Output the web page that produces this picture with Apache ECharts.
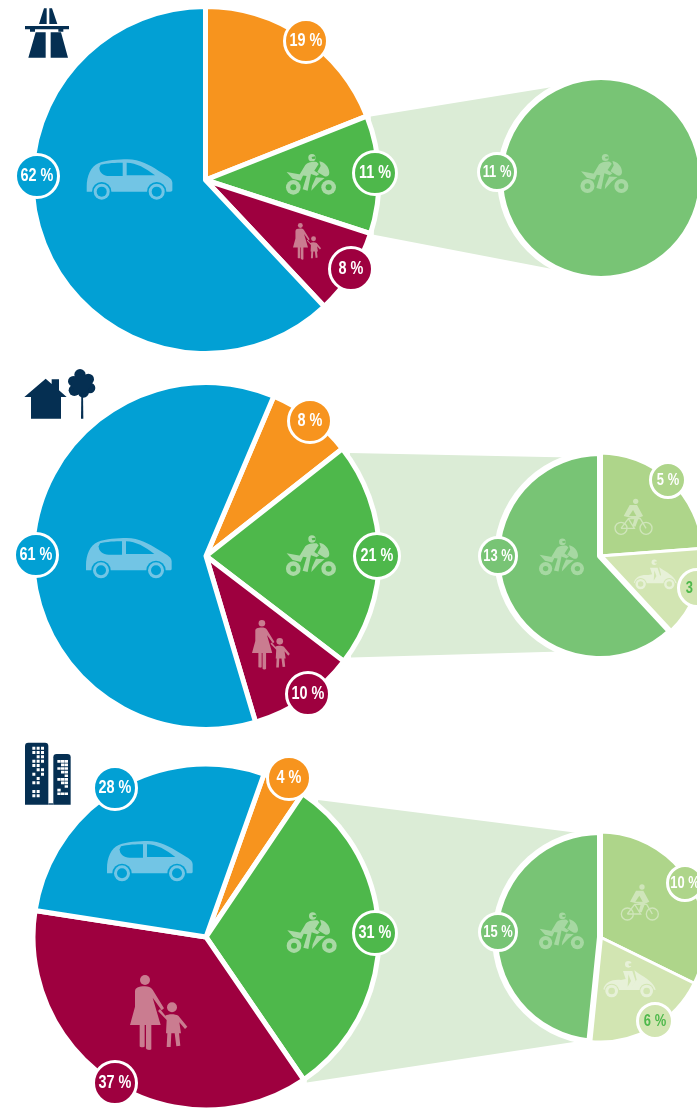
<!DOCTYPE html>
<html>
<head>
<meta charset="utf-8">
<title>Modal split</title>
<script src="https://cdn.jsdelivr.net/npm/echarts@6/dist/echarts.min.js"></script>
<style>
  html, body { margin: 0; padding: 0; background: #fff; }
  #chart { width: 697px; height: 1109px; }
</style>
</head>
<body>
<div id="chart"></div>
<script>
// categories, clockwise in every pie
var mainCategories = ['Other', 'Two-wheelers', 'Pedestrians', 'Cars'];
var detailCategories = ['Bicycles', 'Mopeds', 'Motorcycles'];

// shares in percent
var motorwayShares = [19, 11, 8, 62];
var ruralShares = [8, 21, 10, 61];
var urbanShares = [4, 31, 37, 28];
var motorwayDetail = [0, 0, 11];
var ruralDetail = [5, 3, 13];
var urbanDetail = [10, 6, 15];

var mainColors = ['#f7941e', '#4eb84b', '#9e003f', '#02a0d4'];
var detailColors = ['#aed58a', '#d2e5b2', '#78c475'];
var detailText = ['#fff', '#4eb84b', '#fff'];
var navy = '#052f52';
var bandColor = '#dbecd6';

// layout of the three rows, bubbles are [x, y, r] in data order
var panels = [
  {
    main: motorwayShares, detail: motorwayDetail,
    center: [205.5, 180], radius: 173.5, start: 90,
    dCenter: [601, 178], dRadius: 101, dStart: 90,
    bandFrom: [69, 108], bandTo: [332, 207.5],
    bubbles: [[306, 41, 23], [375, 173, 23], [351, 269, 23], [37, 176, 23]],
    dBubbles: [null, null, [497, 172, 20]]
  },
  {
    main: ruralShares, detail: ruralDetail,
    center: [206, 556], radius: 173.5, start: 67,
    dCenter: [600, 556], dRadius: 103, dStart: 90,
    bandFrom: [54.4, 125], bandTo: [343, 202],
    bubbles: [[310, 421, 23], [377, 556, 24], [308, 694, 23], [36, 555, 23]],
    dBubbles: [[668, 480, 19], [697, 588, 20], [498, 556, 20]]
  },
  {
    main: urbanShares, detail: urbanDetail,
    center: [206, 937], radius: 173, start: 70.4,
    dCenter: [600, 937], dRadius: 105, dStart: 90,
    bandFrom: [39.3, 145.3], bandTo: [354.6, 185.5],
    bubbles: [[289, 778, 23], [375, 933, 23], [115, 1083, 23], [115, 788, 23]],
    dBubbles: [[685, 883, 19], [655, 1021, 19], [498, 932, 20]]
  }
];

function circ(cx, cy, r) {
  return 'M' + (cx - r) + ',' + cy + ' a' + r + ',' + r + ' 0 1,0 ' + (2 * r) + ',0 a' + r + ',' + r + ' 0 1,0 ' + (-2 * r) + ',0 Z';
}

// icons are drawn in 3x units: f = foreground fill, h = background fill, s = outline
var carIcon = [
  ['f', 'M0,82 C0,50 12,22 35,12 C60,2 95,0 122,0 C160,0 190,18 215,34 C235,47 257,55 257,70 L257,92 C257,96 255,97 250,97 L0,97 Z'],
  ['h', 'M42,16 C60,11 90,10 108,10 L108,50 L68,50 C50,50 38,40 38,25 Z'],
  ['h', 'M120,10 C150,11 175,25 205,48 L120,48 Z'],
  ['h', circ(45, 97, 29)], ['h', circ(210, 97, 29)],
  ['f', circ(45, 97, 24)], ['f', circ(210, 97, 24)],
  ['h', circ(45, 97, 15)], ['h', circ(210, 97, 15)]
];
var motoIcon = [
  ['f', circ(42, 122, 22)], ['f', circ(148, 122, 22)],
  ['h', circ(42, 122, 9)], ['h', circ(148, 122, 9)],
  ['f', 'M22,76 L72,85 L64,102 L40,96 Z'],
  ['f', 'M60,85 L78,55 C85,47 100,44 112,46 L118,52 L105,72 L120,82 L112,88 L95,82 L85,132 L70,128 L82,88 Z'],
  ['f', 'M120,44 C136,46 150,62 150,78 C150,88 142,92 134,88 L114,76 L124,58 Z'],
  ['f', 'M98,118 L110,92 L136,94 L118,108 L96,132 Z'],
  ['f', circ(98, 33, 11)], ['h', 'M97,31 L108,29 L108,36 L99,37 Z']
];
var pedIcon = [
  ['f', circ(45, 15, 15)],
  ['f', 'M15,50 C15,38 25,34 45,34 C55,34 62,36 68,44 L102,100 L95,106 L68,68 L92,150 L64,150 L64,222 C64,226 49,226 48,220 L48,150 L44,150 L44,214 C44,218 30,218 29,214 L29,150 L0,150 L15,95 Z'],
  ['f', circ(126, 97, 15)],
  ['f', 'M106,122 C115,116 135,116 145,122 L172,155 L165,162 L148,142 L153,175 L147,175 L151,212 L139,214 L134,175 L124,175 L122,216 L110,216 L112,175 L108,175 L110,135 L84,108 L90,102 Z']
];
var bikeIcon = [
  ['s', circ(52, 117, 18)], ['s', circ(127, 117, 18)],
  ['s', 'M52,117 L74,88 L110,88 L127,117 M74,88 L92,117 L52,117'],
  ['f', circ(96, 36, 8)],
  ['f', 'M78,47 L100,47 L118,80 L105,86 L95,112 L86,110 L92,88 L60,80 Z'],
  ['h', 'M88,62 L98,80 L76,80 Z']
];
var scooterIcon = [
  ['f', circ(100, 28, 10)], ['h', 'M100,26 L112,24 L112,33 L102,33 Z'],
  ['f', 'M25,103 C30,80 55,72 78,75 L92,72 L84,48 L112,48 L122,78 L110,95 L125,74 L118,46 L130,55 C155,70 178,85 182,105 L170,103 C165,88 145,85 135,105 L72,105 C65,88 40,88 30,105 Z'],
  ['h', 'M100,58 L108,78 L98,95 Z'],
  ['h', circ(50, 108, 22)], ['h', circ(155, 108, 22)],
  ['f', circ(50, 108, 19)], ['f', circ(155, 108, 19)],
  ['h', circ(50, 108, 10)], ['h', circ(155, 108, 10)]
];
var motorwaySign = [
  ['f', 'M117,72 L132,25 L140,25 L140,72 Z M148,72 L148,25 L156,25 L172,72 Z'],
  ['f', 'M75,78 L207,78 L207,88 L190,88 L190,95 L175,95 L175,88 L105,88 L105,95 L90,95 L90,88 L75,88 Z'],
  ['f', 'M85,173 L107,97 L137,97 L137,173 Z M152,173 L152,97 L183,97 L204,173 Z']
];
var houseTree = [
  ['f', 'M28,105 L92,50 L110,66 L110,52 L132,52 L132,85 L155,105 L138,105 L138,170 L48,170 L48,105 Z'],
  ['f', circ(195, 38, 17)], ['f', circ(220, 52, 17)], ['f', circ(225, 78, 16)],
  ['f', circ(205, 90, 17)], ['f', circ(178, 85, 17)], ['f', circ(175, 58, 16)], ['f', circ(198, 65, 29)],
  ['f', 'M199,95 L204,95 L205,170 L198,170 Z']
];

function buildingIcon() {
  var parts = [
    ['f', 'M21,24 Q21,14 31,14 L81,14 Q91,14 91,24 L91,200 L21,200 Z'],
    ['f', 'M106,58 Q106,48 116,48 L148,48 Q158,48 158,58 L158,200 L106,200 Z'],
    ['f', 'M91,196 L106,196 L106,200 L91,200 Z']
  ];
  // window pattern, one string per floor
  var tall = ['111', '111', '011', '111', '110', '011', '101', '010', '110', '000', '110', '110'];
  var short = ['111', '011', '111', '011', '001', '111', '011', '001', '100', '111'];
  var d = '';
  tall.forEach(function (row, r) {
    for (var c = 0; c < 3; c++) if (row[c] === '1') {
      var x = 43 + c * 13, y = 26 + r * 13;
      d += 'M' + x + ',' + y + ' h9 v9 h-9 Z ';
    }
  });
  short.forEach(function (row, r) {
    for (var c = 0; c < 3; c++) if (row[c] === '1') {
      var x = 118 + c * 11, y = 66 + r * 10.8;
      d += 'M' + x + ',' + y + ' h10 v8 h-10 Z ';
    }
  });
  parts.push(['h', d]);
  return parts;
}

function addIcon(list, parts, x, y, s, fg, bg) {
  parts.forEach(function (p) {
    var style = p[0] === 's'
      ? { fill: null, stroke: fg, lineWidth: 4 }
      : { fill: p[0] === 'f' ? fg : bg };
    list.push({ type: 'path', x: x, y: y, scaleX: s, scaleY: s, shape: { pathData: p[1] }, style: style });
  });
}

// angle is clockwise from the top
function polar(c, r, angle) {
  var a = angle * Math.PI / 180;
  return [c[0] + r * Math.sin(a), c[1] - r * Math.cos(a)];
}

// round value badge; the text is squeezed since no condensed font is installed
function addBubble(list, b, value, color, textColor) {
  list.push({
    type: 'circle', shape: { cx: b[0], cy: b[1], r: b[2] - 1.5 },
    style: { fill: color, stroke: '#fff', lineWidth: 3 }
  });
  list.push({
    type: 'text', x: b[0], y: b[1], scaleX: 0.76,
    style: {
      text: value + ' %', fill: textColor, align: 'center', verticalAlign: 'middle',
      fontSize: b[2] >= 23 ? 19 : 17, fontWeight: 'bold', fontFamily: '"Liberation Sans", sans-serif'
    }
  });
}

function pieSeries(center, radius, start, data) {
  return {
    type: 'pie', center: center, radius: [0, radius], startAngle: start, clockwise: true,
    silent: true, animation: false,
    label: { show: false }, labelLine: { show: false },
    emphasis: { disabled: true },
    data: data
  };
}

var series = [];
var bands = [];
var icons = [];
var badges = [];

panels.forEach(function (p) {
  var mainData = p.main.map(function (v, i) {
    addBubble(badges, p.bubbles[i], v, mainColors[i], '#fff');
    return {
      name: mainCategories[i], value: v,
      itemStyle: { color: mainColors[i], borderColor: '#fff', borderWidth: 5 }
    };
  });
  series.push(pieSeries(p.center, p.radius, p.start, mainData));

  // zero shares have no slice and no badge
  var detailData = [];
  p.detail.forEach(function (v, i) {
    if (!v) return;
    addBubble(badges, p.dBubbles[i], v, detailColors[i], detailText[i]);
    detailData.push({
      name: detailCategories[i], value: v,
      itemStyle: { color: detailColors[i], borderColor: '#fff', borderWidth: i === 2 ? 6 : 3 }
    });
  });
  series.push(pieSeries(p.dCenter, p.dRadius, p.dStart, detailData));

  // band between the green slice and its breakdown
  bands.push({
    type: 'polygon', z: 0, silent: true,
    shape: { points: [
      polar(p.center, 177, p.bandFrom[0]), polar(p.dCenter, 103, p.bandTo[0]),
      polar(p.dCenter, 103, p.bandTo[1]), polar(p.center, 177, p.bandFrom[1])
    ] },
    style: { fill: bandColor }
  });
});

var carFg = '#72c5e5', motoFg = '#a9d9a5', pedFg = '#ca7c90';
var dMotoFg = '#a6d8a2', bikeFg = '#cfe5ba', scooterFg = '#e7f1d8';

addIcon(icons, motorwaySign, 0, 0, 1 / 3, navy, '#fff');
addIcon(icons, houseTree, 15, 362, 1 / 3, navy, '#fff');
addIcon(icons, buildingIcon(), 18, 738, 1 / 3, navy, '#fff');

addIcon(icons, carIcon, 86.7, 159.3, 1 / 3, carFg, mainColors[3]);
addIcon(icons, carIcon, 86, 538, 1 / 3, carFg, mainColors[3]);
addIcon(icons, carIcon, 107, 841, 1 / 3, carFg, mainColors[3]);

addIcon(icons, motoIcon, 279.3, 146.7, 1 / 3, motoFg, mainColors[1]);
addIcon(icons, motoIcon, 279.3, 528, 1 / 3, motoFg, mainColors[1]);
addIcon(icons, motoIcon, 280, 905, 1 / 3, motoFg, mainColors[1]);

addIcon(icons, pedIcon, 293, 223, 0.163, pedFg, mainColors[2]);
addIcon(icons, pedIcon, 252, 620, 0.22, pedFg, mainColors[2]);
addIcon(icons, pedIcon, 130, 975, 1 / 3, pedFg, mainColors[2]);

addIcon(icons, motoIcon, 574, 147, 0.32, dMotoFg, detailColors[2]);
addIcon(icons, motoIcon, 533, 532, 0.3, dMotoFg, detailColors[2]);
addIcon(icons, motoIcon, 533, 906, 0.3, dMotoFg, detailColors[2]);

addIcon(icons, bikeIcon, 603.7, 489.3, 1 / 3, bikeFg, detailColors[0]);
addIcon(icons, bikeIcon, 610, 875, 1 / 3, bikeFg, detailColors[0]);
addIcon(icons, scooterIcon, 627, 554.6, 0.273, scooterFg, detailColors[1]);
addIcon(icons, scooterIcon, 595, 955, 1 / 3, scooterFg, detailColors[1]);

// icons and badges go through a custom series since the graphic component has no path type
series.push({
  type: 'custom', coordinateSystem: 'none', silent: true, z: 10, clip: false,
  data: [[0]],
  renderItem: function () {
    return { type: 'group', children: icons.concat(badges) };
  }
});

var chart = echarts.init(document.getElementById('chart'));
chart.setOption({
  animation: false,
  series: series,
  graphic: { elements: bands }
});
</script>
</body>
</html>
